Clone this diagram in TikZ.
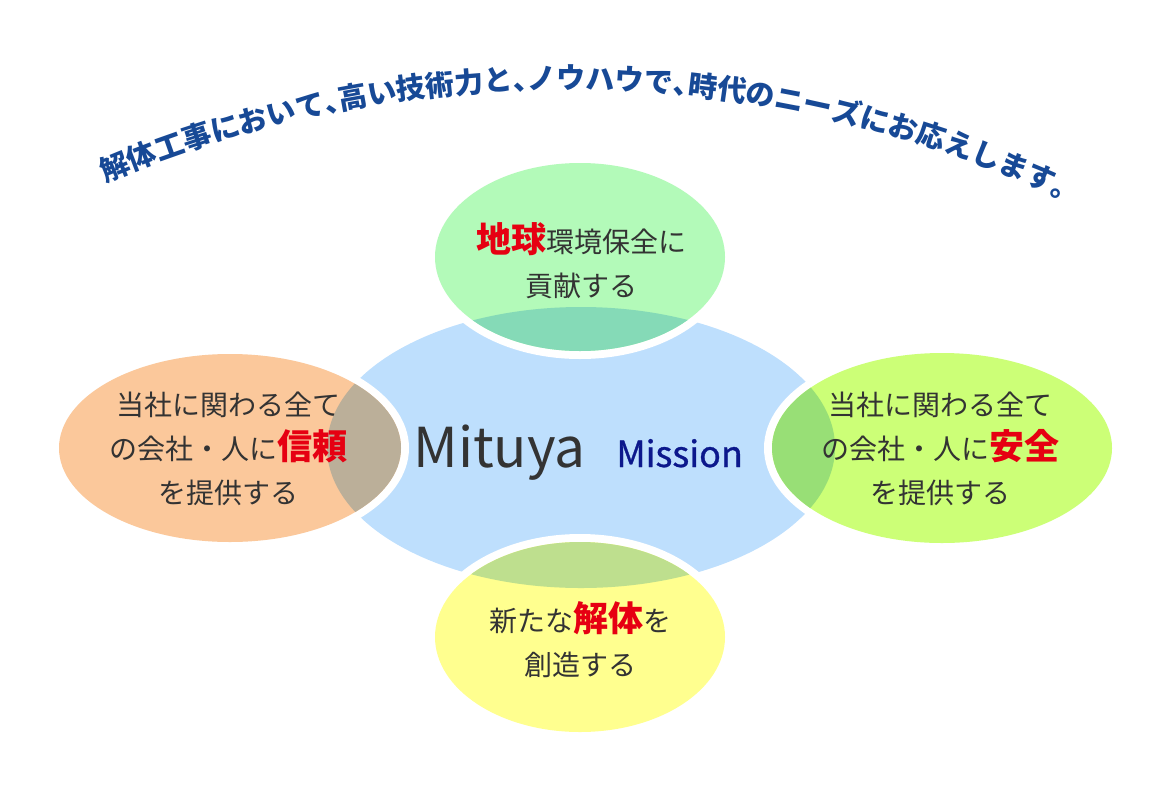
\documentclass[tikz,border=0pt]{standalone}
\usepackage{fontspec}
\usepackage{xcolor}
\usepackage{tikz}
\usetikzlibrary{decorations.text}

\newfontfamily\jpfont{Noto Sans CJK JP}
\newfontfamily\jpsemi[FakeBold=0.8]{Noto Sans CJK JP}
\newfontfamily\headfont[RawFeature=+halt]{Noto Sans CJK JP}

\definecolor{hubblue}{RGB}{190,223,253}
\definecolor{envgreen}{RGB}{179,250,185}
\definecolor{envmix}{RGB}{133,218,183}
\definecolor{trustorange}{RGB}{251,200,155}
\definecolor{trustmix}{RGB}{187,175,153}
\definecolor{safelime}{RGB}{204,255,119}
\definecolor{safemix}{RGB}{152,223,118}
\definecolor{newyellow}{RGB}{255,255,143}
\definecolor{newmix}{RGB}{190,223,142}
\definecolor{textgray}{RGB}{51,51,51}
\definecolor{keyred}{RGB}{230,0,18}
\definecolor{missionnavy}{RGB}{12,24,140}
\definecolor{headblue}{RGB}{23,73,150}

\newcommand{\redword}[1]{{\bfseries\fontsize{17.5}{22}\selectfont\color{keyred}#1}}

\begin{document}
\begin{tikzpicture}[x=0.5pt,y=0.5pt,
    petaltext/.style={font=\jpfont\fontsize{14}{22}\selectfont, text=textgray, align=center, inner sep=0}]
    \useasboundingbox (0,0) rectangle (1170,800);

    % centre
    \fill[hubblue] (581,352.5) ellipse (254 and 140.5);

    % top
    \fill[white] (580,543) ellipse (153 and 102);
    \fill[envgreen] (580,543) ellipse (145 and 94);
    \begin{scope}
        \clip (580,543) ellipse (145 and 94);
        \fill[envmix] (581,352.5) ellipse (254 and 140.5);
    \end{scope}

    % left
    \fill[white] (230,352) ellipse (179 and 102);
    \fill[trustorange] (230,352) ellipse (171 and 94);
    \begin{scope}
        \clip (230,352) ellipse (171 and 94);
        \fill[trustmix] (581,352.5) ellipse (254 and 140.5);
    \end{scope}

    % right
    \fill[white] (942,352) ellipse (178 and 103);
    \fill[safelime] (942,352) ellipse (170 and 95);
    \begin{scope}
        \clip (942,352) ellipse (170 and 95);
        \fill[safemix] (581,352.5) ellipse (254 and 140.5);
    \end{scope}

    % bottom
    \fill[white] (580,163) ellipse (153 and 103);
    \fill[newyellow] (580,163) ellipse (145 and 95);
    \begin{scope}
        \clip (580,163) ellipse (145 and 95);
        \fill[newmix] (581,352.5) ellipse (254 and 140.5);
    \end{scope}

    \node[petaltext] (env) at (581,539) {\redword{地球}環境保全に\\貢献する};
    \node[petaltext] (trust) at (228,351) {当社に関わる全て\\の会社・人に\redword{信頼}\\を提供する};
    \node[petaltext] (safety) at (940,351) {当社に関わる全て\\の会社・人に\redword{安全}\\を提供する};
    \node[petaltext] (create) at (580,160) {新たな\redword{解体}を\\創造する};

    \node[anchor=base west, inner sep=0, text=textgray,
        font=\jpfont\fontsize{27.5}{30}\selectfont] (mituya) at (413,333) {Mituya};
    \node[anchor=base west, inner sep=0, text=missionnavy,
        font=\jpsemi\fontsize{18}{20}\selectfont] (mission) at (616,333) {Mission};

    % heading on an arc
    \coordinate (arcstart) at (-6.1,563.3);
    \path[decorate, decoration={text along path, text align=center, text color=headblue,
        text={|\headfont\bfseries\fontsize{14.5}{14.5}\selectfont|解体工事において、高い技術力と、ノウハウで、時代のニーズにお応えします。}}]
        (arcstart) arc[start angle=119, end angle=59, radius=1178];
\end{tikzpicture}
\end{document}
